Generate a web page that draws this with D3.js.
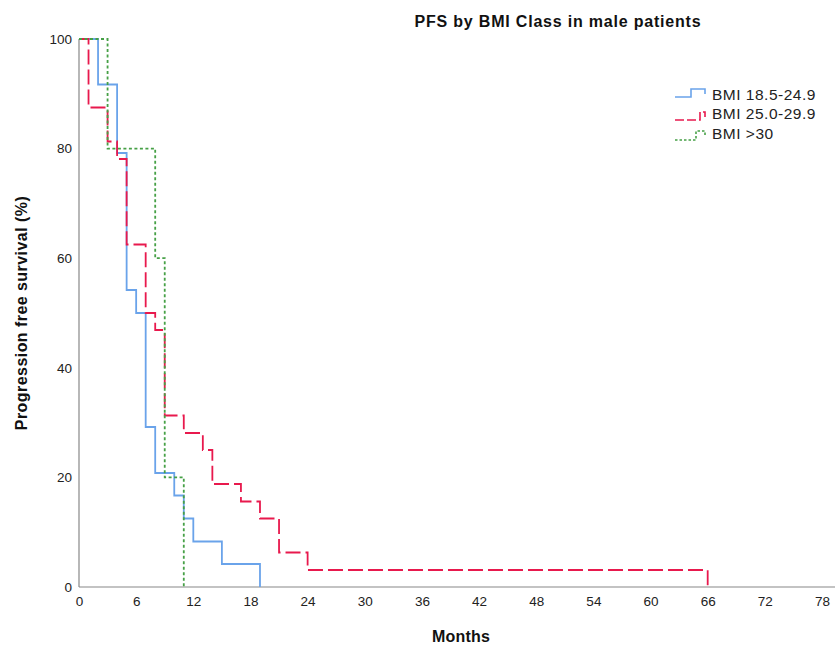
<!DOCTYPE html>
<html><head><meta charset="utf-8">
<script src="https://cdn.jsdelivr.net/npm/d3@7"></script>
<style>body{margin:0;background:#fff}svg{display:block;font-family:"Liberation Sans",Arial,sans-serif}</style>
</head><body>
<script>
// Data
const xTicks = [0,6,12,18,24,30,36,42,48,54,60,66,72,78];
const yTicks = [0,20,40,60,80,100];
const seriesNames = ["BMI 18.5-24.9","BMI 25.0-29.9","BMI >30"];
const blueTimes = [0,2,4,5,6,7,8,10,11,12,15,19];
const blueSurv  = [100,91.7,79.2,54.2,50,29.2,20.8,16.7,12.5,8.3,4.2,0];
const redTimes  = [0,1,3,4,5,7,8,9,11,13,14,17,19,21,24,66];
const redSurv   = [100,87.5,81.3,78.1,62.5,50,46.9,31.3,28.1,25,18.8,15.6,12.5,6.3,3.1,0];
const greenTimes = [0,3,8,9,11];
const greenSurv  = [100,80,60,20,0];

const W=835,H=648;
const svg=d3.select("body").append("svg").attr("width",W).attr("height",H);
const x=d3.scaleLinear().domain([0,78]).range([79,822]);
const y=d3.scaleLinear().domain([0,100]).range([587,39]);

// axes
const xAxis=svg.append("g").attr("transform","translate(0,587)")
  .call(d3.axisBottom(x).tickValues(xTicks).tickSize(0).tickPadding(9));
xAxis.select(".domain").remove();
svg.append("line").attr("x1",79).attr("x2",835).attr("y1",587).attr("y2",587).attr("stroke","#888").attr("stroke-width",1.2);
const yAxis=svg.append("g").attr("transform","translate(79,0)")
  .call(d3.axisLeft(y).tickValues(yTicks).tickSize(0).tickPadding(7));
yAxis.select(".domain").remove();
svg.append("line").attr("x1",79).attr("x2",79).attr("y1",39).attr("y2",587).attr("stroke","#888").attr("stroke-width",1.2);
svg.selectAll(".tick text").attr("font-size",13.5).attr("fill","#222").attr("font-family","Liberation Sans, Arial, sans-serif");

const styles=[
  {color:"#6aa3ea",dash:null,leg:null},
  {color:"#e8194d",dash:"15,5",leg:"9,3"},
  {color:"#46a046",dash:"3,2.5",leg:"2.5,2"}
];
const series=[
  {t:blueTimes,s:blueSurv},
  {t:redTimes,s:redSurv},
  {t:greenTimes,s:greenSurv}
];
const line=d3.line().x(d=>x(d[0])).y(d=>y(d[1])).curve(d3.curveStepAfter);
series.forEach((sr,i)=>{
  const pts=sr.t.map((t,j)=>[t,sr.s[j]]);
  svg.append("path").attr("d",line(pts)).attr("fill","none")
    .attr("stroke",styles[i].color).attr("stroke-width",1.8)
    .attr("stroke-dasharray",styles[i].dash);
});

// title and axis labels
svg.append("text").attr("x",558).attr("y",27).attr("text-anchor","middle")
  .attr("font-weight","bold").attr("font-size",16).attr("letter-spacing",0.8).attr("fill","#111").text("PFS by BMI Class in male patients");
svg.append("text").attr("x",461).attr("y",642).attr("text-anchor","middle")
  .attr("font-weight","bold").attr("font-size",16).attr("letter-spacing",0.2).attr("fill","#111").text("Months");
svg.append("text").attr("transform","translate(27,313) rotate(-90)").attr("text-anchor","middle")
  .attr("font-weight","bold").attr("font-size",16).attr("letter-spacing",0.45).attr("fill","#111").text("Progression free survival (%)");

// legend
const legShapes=[
  "M675,97H691V89H705V94",
  "M675,120H700V112H705V117",
  "M675,140H696V131H705V137"
];
const legTextY=[99.5,119,139];
seriesNames.forEach((n,i)=>{
  svg.append("path").attr("d",legShapes[i])
    .attr("fill","none").attr("stroke",styles[i].color).attr("stroke-width",1.6)
    .attr("stroke-dasharray",styles[i].leg);
  svg.append("text").attr("x",712).attr("y",legTextY[i]).attr("font-size",15.5).attr("letter-spacing",0.5).attr("fill","#222").text(n);
});
</script>
</body></html>
